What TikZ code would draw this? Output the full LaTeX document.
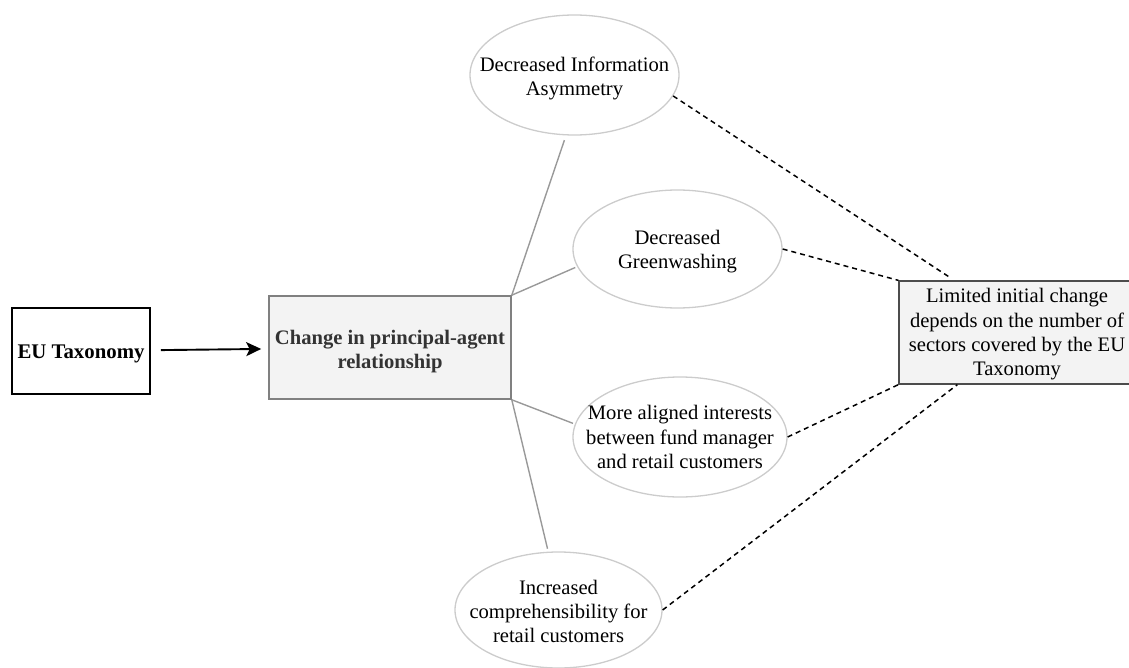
\documentclass[tikz,border=0pt]{standalone}
\usepackage{fontspec}
\setmainfont{Liberation Serif}
\usetikzlibrary{shapes.geometric,arrows.meta}
\definecolor{boxfill}{HTML}{F3F3F3}
\definecolor{ovalline}{HTML}{CCCCCC}
\definecolor{linkline}{HTML}{999999}
\definecolor{midtext}{HTML}{333333}
\begin{document}
\begin{tikzpicture}[x=1pt,y=-1pt,
  txt/.style={font=\fontsize{20.6}{24.3}\selectfont, align=center},
  btxt/.style={font=\bfseries\fontsize{20.6}{24}\selectfont, align=center},
  oval/.style={ellipse, draw=ovalline, line width=1.3pt, fill=white, inner sep=0pt},
  link/.style={draw=linkline, line width=1.4pt},
  dashlink/.style={draw=black, line width=1.5pt, dash pattern=on 5pt off 4pt}
]
\useasboundingbox (0,0) rectangle (1129,668);
\node[draw=black, line width=1.7pt, fill=white, minimum width=138pt, minimum height=86pt, inner sep=0pt,
  label={[btxt, font=\bfseries\fontsize{20.8}{24}\selectfont, yshift=-3pt]center:{EU Taxonomy}}] (eu) at (81,351) {};
\node[draw=black!50, line width=1.6pt, fill=boxfill, minimum width=242pt, minimum height=103pt, inner sep=0pt,
  label={[btxt, text=midtext, yshift=-4.5pt]center:{Change in principal-agent\\relationship}}] (chg) at (390,347.5) {};
\node[draw=black!70, line width=1.3pt, fill=boxfill, minimum width=236pt, minimum height=103pt, inner sep=0pt,
  label={[txt, yshift=-2pt]center:{Limited initial change\\depends on the number of\\sectors covered by the EU\\Taxonomy}}] (lim) at (1017,332.5) {};
\node[oval, minimum width=209pt, minimum height=120pt, label={[txt, yshift=-3.5pt]center:{Decreased Information\\Asymmetry}}] (e1) at (574.5,75) {};
\node[oval, minimum width=209pt, minimum height=118pt, label={[txt, yshift=-2.5pt]center:{Decreased\\Greenwashing}}] (e2) at (677.5,249) {};
\node[oval, minimum width=214pt, minimum height=120pt, label={[txt]center:{More aligned interests\\between fund manager\\and retail customers}}] (e3) at (680,437) {};
\node[oval, minimum width=207pt, minimum height=116pt, label={[txt, yshift=-1.5pt]center:{Increased\\comprehensibility for\\retail customers}}] (e4) at (558.5,610) {};

\draw[line width=1.9pt, -{Stealth[length=15pt,width=14pt,inset=3.5pt]}, shorten <=10pt, shorten >=7pt] (eu) -- (chg);

\draw[link, shorten >=5pt] (chg.north east) -- (e1.262);
\draw[link, shorten >=2pt] (chg.north east) -- (e2.190);
\draw[link, shorten >=2pt] (chg.south east) -- (e3.173);
\draw[link, shorten >=3pt] (chg.south east) -- (e4.100);

\coordinate (limtop) at ([xshift=56pt]lim.north west);
\coordinate (limbot) at ([xshift=59pt]lim.south west);
\draw[dashlink, shorten >=7pt] (e1.348) -- (limtop);
\draw[dashlink] (e2.east) -- (lim.north west);
\draw[dashlink] (e3.east) -- (lim.south west);
\draw[dashlink] (e4.east) -- (limbot);
\end{tikzpicture}
\end{document}
